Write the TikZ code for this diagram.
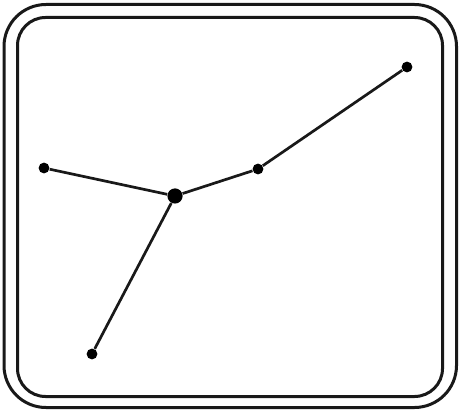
\documentclass[tikz,border=0pt]{standalone}
\usetikzlibrary{backgrounds}

\begin{document}
\begin{tikzpicture}[
  x=0.5pt, y=-0.5pt,
  hub/.style={circle, fill=black, inner sep=0pt, minimum size=7.6pt},
  tip/.style={circle, fill=black, inner sep=0pt, minimum size=5.4pt},
  edge/.style={line width=1.35pt, black!90},
  frame/.style={line width=1.5pt, black!90}
]
\useasboundingbox (0,0) rectangle (459,410);

% frames
\draw[frame, rounded corners=21pt] (4,4.5) rectangle (456.5,407.5);
\draw[frame, rounded corners=14pt] (17.5,17.5) rectangle (442.5,396.5);

\node[tip] (ne) at (407,67) {};
\node[tip] (mid) at (258,169) {};
\node[hub] (c) at (175,196) {};
\node[tip] (w) at (44,168) {};
\node[tip] (s) at (92,354) {};

\draw[edge] (ne) -- (mid);
\draw[edge] (mid) -- (c);
\draw[edge] (c) -- (w);
\draw[edge] (c) -- (s);
\end{tikzpicture}
\end{document}
